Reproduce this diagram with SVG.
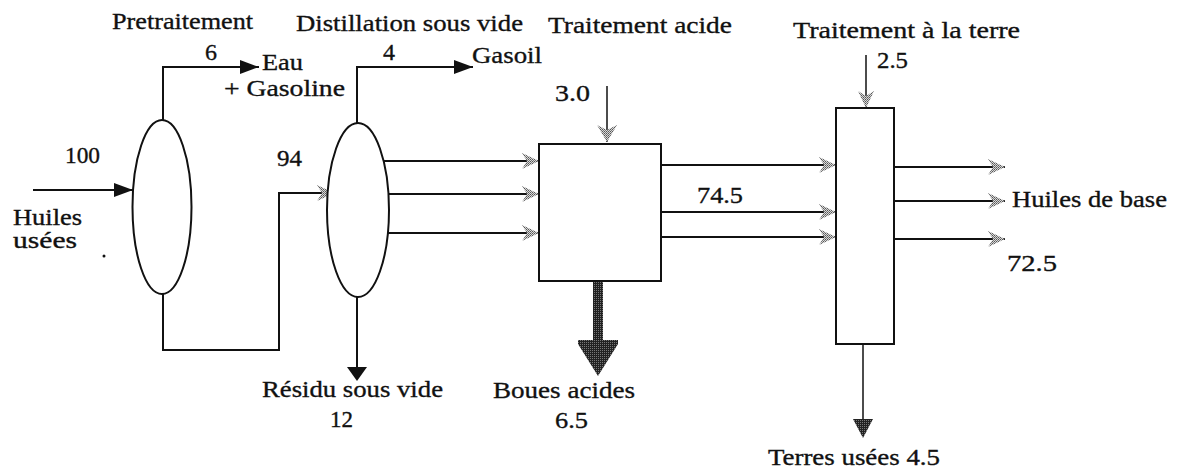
<svg xmlns="http://www.w3.org/2000/svg" width="1178" height="472" viewBox="0 0 1178 472">
<defs>
<style>
text{font-size:24px;fill:#111;stroke:#111;stroke-width:0.35}
.ln{fill:none;stroke:#111;stroke-width:2}
.thin{fill:none;stroke:#111;stroke-width:1.5}
.unit{fill:#fff;stroke:#111;stroke-width:2}
.blk{marker-end:url(#ab)}
.gry{marker-end:url(#ag)}
.grv{marker-end:url(#agv)}
</style>
<pattern id="stip" width="2" height="2" patternUnits="userSpaceOnUse">
<rect width="2" height="2" fill="#d8d8d8"/>
<rect width="1" height="1" fill="#555"/>
<rect x="1" y="1" width="1" height="1" fill="#777"/>
</pattern>
<pattern id="dark" width="2" height="2" patternUnits="userSpaceOnUse">
<rect width="2" height="2" fill="#222"/>
<rect width="1" height="1" fill="#777"/>
</pattern>
<marker id="ab" markerUnits="userSpaceOnUse" markerWidth="20" markerHeight="16" refX="19" refY="8" orient="auto" overflow="visible">
<path d="M0,1 L19,8 L0,15 Z" fill="#111"/>
</marker>
<marker id="ag" markerUnits="userSpaceOnUse" markerWidth="18" markerHeight="16" refX="17" refY="8" orient="auto" overflow="visible">
<path d="M0,0 L17,8 L0,16 L5,8 Z" fill="url(#stip)"/>
</marker>
<marker id="agv" markerUnits="userSpaceOnUse" markerWidth="18" markerHeight="20" refX="17" refY="10" orient="auto" overflow="visible">
<path d="M0,0 L17,10 L0,20 L5,10 Z" fill="url(#stip)"/>
</marker>
</defs>

<g id="connectors">
<line class="ln blk" x1="33" y1="190" x2="133" y2="190"/>
<polyline class="ln blk" points="163,120 163,67 259,67"/>
<polyline class="ln gry" points="163,294 163,350 279,350 279,193 334,193"/>
<polyline class="ln blk" points="357,123 357,67 473,67"/>
<line class="ln" x1="357" y1="297" x2="357" y2="368"/>
<path d="M347,367 L367,367 L357,381 Z" fill="#111"/>
<line class="ln gry" x1="384" y1="161" x2="539" y2="161"/>
<line class="ln gry" x1="388" y1="194" x2="539" y2="194"/>
<line class="ln gry" x1="388" y1="233" x2="539" y2="233"/>
<line class="thin grv" x1="607" y1="86" x2="607" y2="142"/>
<rect x="593" y="281" width="10" height="60" fill="url(#dark)"/>
<path d="M578,340 L618,340 L618,344 L598,376 L578,344 Z" fill="url(#dark)"/>
<line class="ln gry" x1="661" y1="165" x2="836" y2="165"/>
<line class="ln gry" x1="661" y1="212" x2="836" y2="212"/>
<line class="ln gry" x1="661" y1="237" x2="836" y2="237"/>
<line class="thin gry" x1="866" y1="55" x2="866" y2="108"/>
<line class="ln gry" x1="894" y1="167" x2="1005" y2="167"/>
<line class="ln gry" x1="894" y1="201" x2="1005" y2="201"/>
<line class="ln gry" x1="894" y1="239" x2="1005" y2="239"/>
<line class="thin" x1="863" y1="344" x2="863" y2="421"/>
<path d="M853,419 L873,419 L863,438 Z" fill="url(#dark)"/>
</g>

<g font-family="Liberation Serif, Times New Roman, DejaVu Serif, serif">
<g id="pretraitement">
<ellipse class="unit" cx="162" cy="207" rx="29.5" ry="87"/>
<text x="112" y="29" textLength="141" lengthAdjust="spacingAndGlyphs">Pretraitement</text>
</g>

<g id="distillation">
<ellipse class="unit" cx="358" cy="210" rx="31" ry="87"/>
<text x="296" y="31" textLength="227" lengthAdjust="spacingAndGlyphs">Distillation sous vide</text>
</g>

<g id="traitement-acide">
<rect class="unit" x="539" y="144" width="122" height="137"/>
<text x="548" y="33" textLength="184" lengthAdjust="spacingAndGlyphs">Traitement acide</text>
</g>

<g id="traitement-terre">
<rect class="unit" x="836" y="108" width="58" height="236"/>
<text x="793" y="38" textLength="227" lengthAdjust="spacingAndGlyphs">Traitement à la terre</text>
</g>

<g id="labels">
<text x="205" y="60">6</text>
<text x="262" y="70" textLength="41" lengthAdjust="spacingAndGlyphs">Eau</text>
<text x="224" y="96" textLength="121" lengthAdjust="spacingAndGlyphs">+ Gasoline</text>
<text x="383" y="60">4</text>
<text x="472" y="63" textLength="70" lengthAdjust="spacingAndGlyphs">Gasoil</text>
<text x="555" y="101" textLength="35" lengthAdjust="spacingAndGlyphs">3.0</text>
<text x="877" y="68" textLength="31" lengthAdjust="spacingAndGlyphs">2.5</text>
<text x="65" y="163" textLength="35" lengthAdjust="spacingAndGlyphs">100</text>
<text x="277" y="166" textLength="25" lengthAdjust="spacingAndGlyphs">94</text>
<text x="13" y="225" textLength="69" lengthAdjust="spacingAndGlyphs" style="font-size:23px">Huiles</text>
<text x="13" y="248" textLength="64" lengthAdjust="spacingAndGlyphs" style="font-size:23px">usées</text>
<circle cx="104" cy="256" r="1.5" fill="#111"/>
<text x="697" y="203" textLength="46" lengthAdjust="spacingAndGlyphs">74.5</text>
<text x="1012" y="207" textLength="155" lengthAdjust="spacingAndGlyphs">Huiles de base</text>
<text x="1007" y="271" textLength="50" lengthAdjust="spacingAndGlyphs">72.5</text>
<text x="262" y="397" textLength="181" lengthAdjust="spacingAndGlyphs">Résidu sous vide</text>
<text x="330" y="427" textLength="23" lengthAdjust="spacingAndGlyphs">12</text>
<text x="493" y="398" textLength="142" lengthAdjust="spacingAndGlyphs">Boues acides</text>
<text x="555" y="428" textLength="33" lengthAdjust="spacingAndGlyphs">6.5</text>
<text x="768" y="465" textLength="172" lengthAdjust="spacingAndGlyphs">Terres usées 4.5</text>
</g>
</g>
</svg>
